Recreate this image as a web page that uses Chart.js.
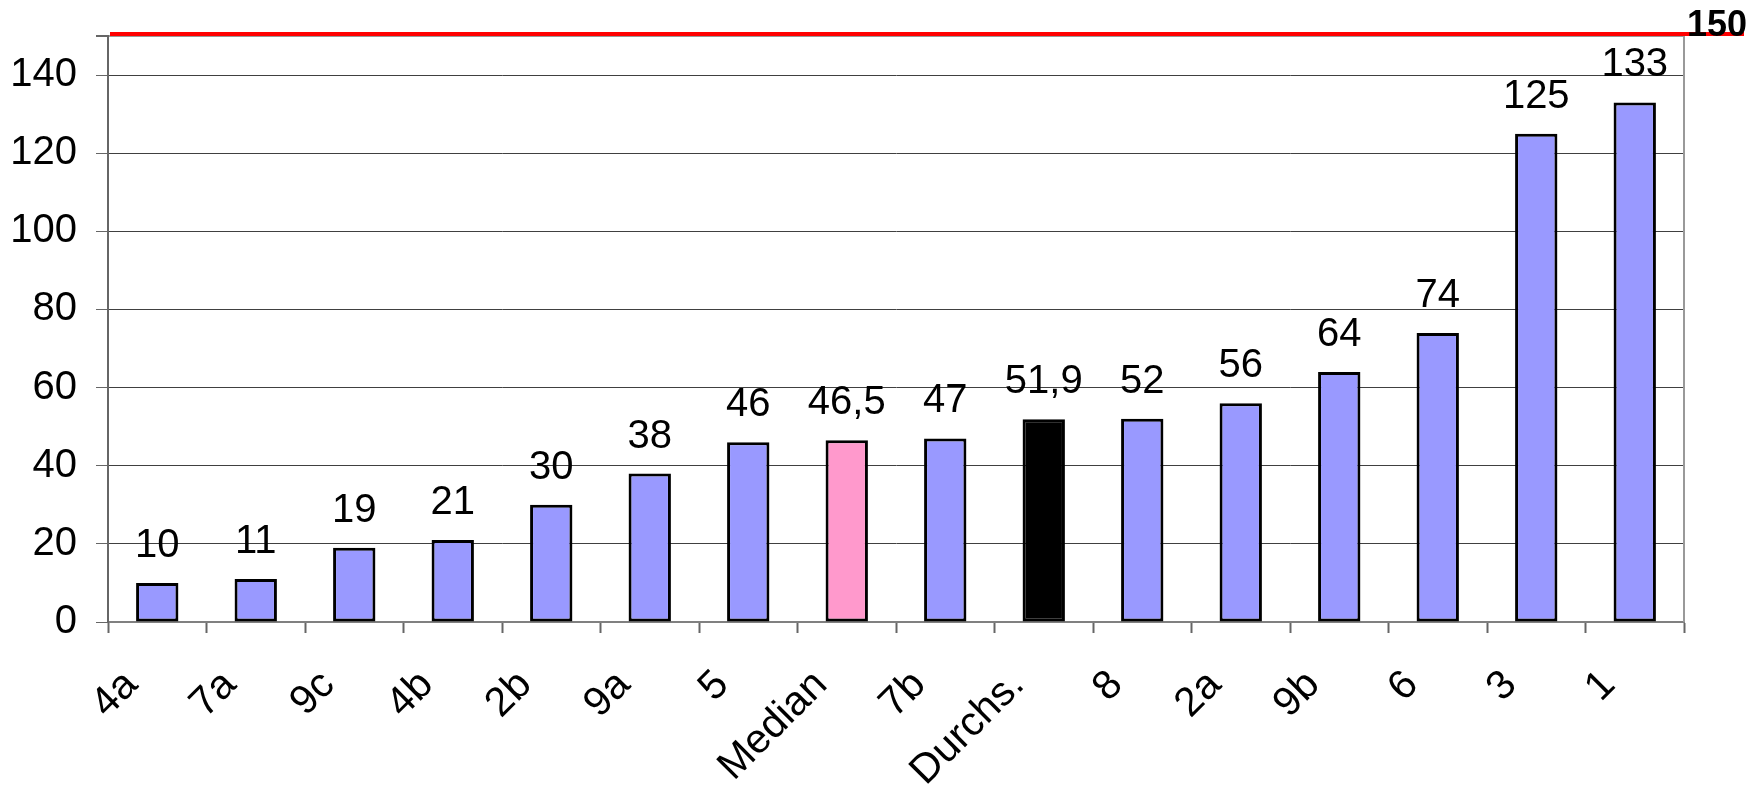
<!DOCTYPE html>
<html>
<head>
<meta charset="utf-8">
<script src="https://cdn.jsdelivr.net/npm/chart.js@4/dist/chart.umd.min.js"></script>
<style>
  html, body { margin: 0; padding: 0; background: #fff; }
  #wrap { width: 1764px; height: 785px; }
</style>
</head>
<body>
<div id="wrap"><canvas id="chart" width="1764" height="785"></canvas></div>
<script>
// --- dados ---
const categorias = ['4a', '7a', '9c', '4b', '2b', '9a', '5', 'Median', '7b', 'Durchs.', '8', '2a', '9b', '6', '3', '1'];
const valores = [10, 11, 19, 21, 30, 38, 46, 46.5, 47, 51.9, 52, 56, 64, 74, 125, 133];
const yTicks = [0, 20, 40, 60, 80, 100, 120, 140];
const linhaLimite = 150;

const fonte = '"Liberation Sans", Arial, sans-serif';

function corBarra(ctx) {
    const cat = categorias[ctx.dataIndex];
    if (cat === 'Median') return '#FF99CC';
    if (cat === 'Durchs.') return '#000000';
    return '#9999FF';
}

function formatar(v) {
    return String(v).replace('.', ',');
}

// rótulos em cima das barras
const rotulosPlugin = {
    id: 'rotulos',
    afterDatasetsDraw(chart) {
        const ctx = chart.ctx;
        const meta = chart.getDatasetMeta(0);
        ctx.save();
        ctx.font = '40px ' + fonte;
        ctx.fillStyle = '#000';
        ctx.textAlign = 'center';
        ctx.textBaseline = 'alphabetic';
        meta.data.forEach((bar, i) => {
            ctx.fillText(formatar(valores[i]), bar.x, bar.y - 26);
        });
        ctx.restore();
    }
};

// borda direita + linha vermelha do limite
const molduraPlugin = {
    id: 'moldura',
    beforeDatasetsDraw(chart) {
        const { ctx, chartArea } = chart;
        ctx.save();
        ctx.strokeStyle = '#999999';
        ctx.lineWidth = 2;
        ctx.beginPath();
        ctx.moveTo(chartArea.right, chartArea.top);
        ctx.lineTo(chartArea.right, chartArea.bottom);
        ctx.stroke();
        ctx.restore();
    },
    afterDraw(chart) {
        const { ctx, chartArea } = chart;
        const y = chart.scales.y.getPixelForValue(linhaLimite) - 2;
        ctx.save();
        ctx.strokeStyle = '#FF0000';
        ctx.lineWidth = 4;
        ctx.beginPath();
        ctx.moveTo(chartArea.left + 2, y);
        ctx.lineTo(chartArea.right + 60, y);
        ctx.stroke();
        ctx.font = 'bold 36px ' + fonte;
        ctx.fillStyle = '#000';
        ctx.textAlign = 'right';
        ctx.textBaseline = 'alphabetic';
        ctx.fillText(String(linhaLimite), chartArea.right + 63, y + 2);
        ctx.restore();
    }
};

new Chart(document.getElementById('chart'), {
    type: 'bar',
    data: {
        labels: categorias,
        datasets: [{
            data: valores,
            backgroundColor: corBarra,
            borderColor: '#000000',
            borderWidth: 3,
            borderSkipped: false,
            categoryPercentage: 1,
            barPercentage: 0.43
        }]
    },
    options: {
        responsive: false,
        devicePixelRatio: 1,
        animation: false,
        layout: { padding: { top: 36, right: 80, left: 0, bottom: 0 } },
        plugins: {
            legend: { display: false },
            tooltip: { enabled: false }
        },
        scales: {
            x: {
                afterFit: (scale) => { scale.height = 163; },
                grid: {
                    drawOnChartArea: false,
                    drawTicks: true,
                    tickLength: 11,
                    tickColor: '#666666',
                    tickWidth: 2
                },
                border: { display: true, color: '#808080', width: 2 },
                ticks: {
                    autoSkip: false,
                    minRotation: 45,
                    maxRotation: 45,
                    labelOffset: -26,
                    padding: 28,
                    color: '#000',
                    font: { family: fonte, size: 41 }
                }
            },
            y: {
                min: 0,
                max: linhaLimite,
                afterFit: (scale) => { scale.width = 108; },
                afterBuildTicks: (scale) => {
                    scale.ticks = yTicks.concat([linhaLimite]).map(v => ({ value: v }));
                },
                grid: {
                    color: (c) => c.tick && c.tick.value === linhaLimite ? '#999999' : '#404040',
                    lineWidth: (c) => c.tick && c.tick.value === linhaLimite ? 2 : 1,
                    drawTicks: true,
                    tickLength: 12,
                    tickColor: '#666666'
                },
                border: { display: true, color: '#666666', width: 2 },
                ticks: {
                    padding: 19,
                    color: '#000',
                    font: { family: fonte, size: 40, lineHeight: 0.6 },
                    callback: (v) => v === linhaLimite ? '' : String(v)
                }
            }
        }
    },
    plugins: [rotulosPlugin, molduraPlugin]
});
</script>
</body>
</html>
